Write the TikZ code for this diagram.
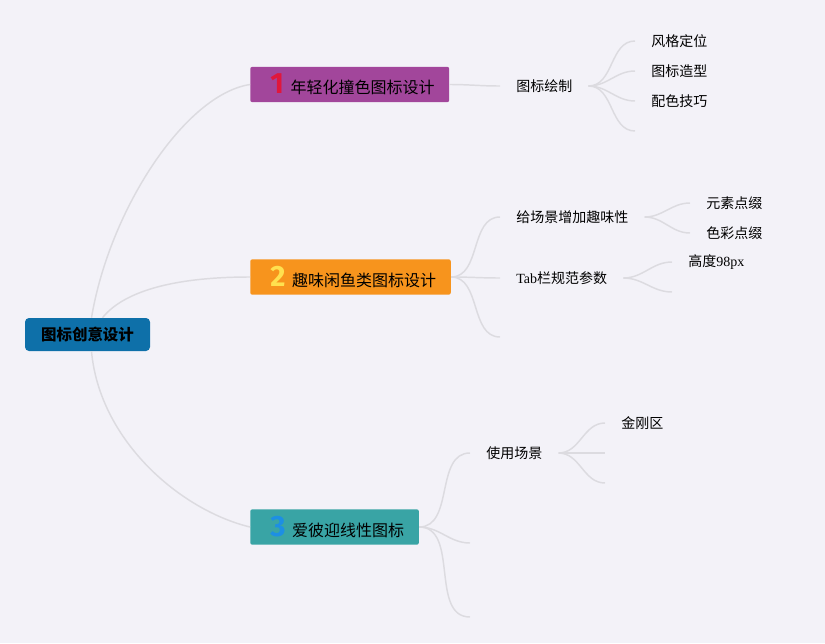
\documentclass[tikz,border=0pt]{standalone}
\usepackage{fontspec}
\usepackage{tikz}
\usetikzlibrary{calc}
\setmainfont{Liberation Serif}
\newfontfamily\cjk{Noto Sans CJK SC}
\newfontfamily\numfont{Fira Sans}
\definecolor{PageBg}{HTML}{F3F2F8}
\definecolor{LineGray}{HTML}{DCDBE0}
\definecolor{RootBlue}{HTML}{0E70A9}
\definecolor{TopicPurple}{HTML}{A2469B}
\definecolor{TopicOrange}{HTML}{F7941D}
\definecolor{TopicTeal}{HTML}{39A4A5}
\definecolor{NumRed}{HTML}{E0173C}
\definecolor{NumYellow}{HTML}{FFE14F}
\definecolor{NumBlue}{HTML}{1D8FE3}
\newcommand{\topicnum}[2]{%
  {\numfont\bfseries\fontsize{22pt}{22pt}\selectfont\textcolor{#1}{#2}}\hspace{5pt}}
\tikzset{
  rootbox/.style={fill=RootBlue, rounded corners=3pt, minimum width=93.75pt,
    minimum height=24.75pt, inner sep=0pt,
    font=\cjk\bfseries\fontsize{11.6pt}{13pt}\selectfont},
  topicbox/.style={fill=#1, rounded corners=1.5pt, anchor=west,
    minimum height=26.5pt, inner ysep=0pt, inner xsep=11pt,
    font=\cjk\fontsize{12pt}{14pt}\selectfont},
  subtopic/.style={anchor=west, inner xsep=12pt, inner ysep=2pt,
    font=\cjk\fontsize{10.5pt}{12pt}\selectfont},
  branch/.style={draw=LineGray, line width=1.1pt},
}
\begin{document}
\begin{tikzpicture}[x=0.75pt, y=-0.75pt]
  \useasboundingbox (0,0) rectangle (825,643);
  \fill[PageBg] (0,0) rectangle (825,643);

  % central topic and main branches
  \node[rootbox] (root) at (87.5,334.5) {图标创意设计};
  \node[topicbox=TopicPurple] (young) at (250,84.5)
    {\hspace{4pt}\topicnum{NumRed}{1}年轻化撞色图标设计};
  \node[topicbox=TopicOrange] (fun) at (250,277)
    {\hspace{4pt}\topicnum{NumYellow}{2}趣味闲鱼类图标设计};
  \node[topicbox=TopicTeal] (line) at (250,527)
    {\hspace{4pt}\topicnum{NumBlue}{3}爱彼迎线性图标};

  \draw[branch] ($(root.north)+(4,0)$) .. controls ($(root.north)+(22,-108)$)
    and ($(young.west)+(-65,10)$) .. (young.west);
  \draw[branch] ($(root.north)+(15,0)$) .. controls ($(root.north)+(35,-25)$)
    and ($(fun.west)+(-80,0)$) .. (fun.west);
  \draw[branch] ($(root.south)+(4,0)$) .. controls ($(root.south)+(12,89)$)
    and ($(line.west)+(-70,-17)$) .. (line.west);

  % branch 1
  \node[subtopic] (draw) at (500,86) {图标绘制};
  \node[subtopic] (style) at (635,41) {风格定位};
  \node[subtopic] (shape) at (635,71) {图标造型};
  \node[subtopic] (color) at (635,101) {配色技巧};
  \coordinate (drawend) at (635,131);
  \draw[branch] (young.east) to[out=0,in=180] (draw.west);
  \foreach \leaf in {style.west,shape.west,color.west,drawend}
    \draw[branch] (draw.east) to[out=0,in=180] (\leaf);

  % branch 2
  \node[subtopic] (scene) at (500,217) {给场景增加趣味性};
  \node[subtopic] (tabbar) at (500,278) {{\rmfamily Tab}栏规范参数};
  \coordinate (funend) at (500,337);
  \node[subtopic] (dots) at (690,203) {元素点缀};
  \node[subtopic] (hues) at (690,233) {色彩点缀};
  \node[subtopic] (height) at (672,262) {高度{\rmfamily 98px}};
  \coordinate (tabend) at (672,292);
  \foreach \leaf in {scene.west,tabbar.west,funend}
    \draw[branch] (fun.east) to[out=0,in=180] (\leaf);
  \foreach \leaf in {dots.west,hues.west}
    \draw[branch] (scene.east) to[out=0,in=180] (\leaf);
  \foreach \leaf in {height.west,tabend}
    \draw[branch] (tabbar.east) to[out=0,in=180] (\leaf);

  % branch 3
  \node[subtopic] (usage) at (470,453) {使用场景};
  \coordinate (lineend) at (470,543);
  \coordinate (linelast) at (470,617);
  \node[subtopic] (kingkong) at (605,423) {金刚区};
  \coordinate (usagemid) at (605,453);
  \coordinate (usageend) at (605,483);
  \foreach \leaf in {usage.west,lineend,linelast}
    \draw[branch] (line.east) to[out=0,in=180] (\leaf);
  \foreach \leaf in {kingkong.west,usagemid,usageend}
    \draw[branch] (usage.east) to[out=0,in=180] (\leaf);
\end{tikzpicture}
\end{document}
